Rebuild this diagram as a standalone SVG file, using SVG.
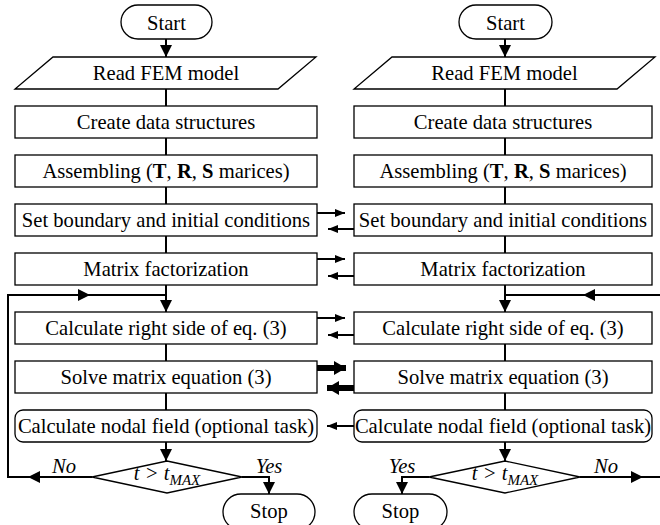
<svg xmlns="http://www.w3.org/2000/svg" width="660" height="525" viewBox="0 0 660 525">
<defs>
<style>
.n{fill:#fff;stroke:#000;stroke-width:1.3}
.t{font-family:"Liberation Serif","Times New Roman","DejaVu Serif",serif;font-size:20.6px;fill:#000;text-anchor:middle}
.i{font-style:italic}
.c{fill:none;stroke:#000;stroke-width:2}
.thin{fill:none;stroke:#000;stroke-width:2}
.thick{fill:none;stroke:#000;stroke-width:6}
</style>
<marker id="ah" viewBox="0 0 12 12" refX="12" refY="6" markerWidth="12" markerHeight="12" markerUnits="userSpaceOnUse" orient="auto"><path d="M0,0 L12,6 L0,12 z" fill="#000"/></marker>
<marker id="sa" viewBox="0 0 10 8" refX="10" refY="4" markerWidth="10" markerHeight="8" markerUnits="userSpaceOnUse" orient="auto"><path d="M0,0 L10,4 L0,8 z" fill="#000"/></marker>
<marker id="ta" viewBox="0 0 12 14" refX="12" refY="7" markerWidth="12" markerHeight="14" markerUnits="userSpaceOnUse" orient="auto"><path d="M0,0 L12,7 L0,14 z" fill="#000"/></marker>
</defs>
<rect width="660" height="525" fill="#fff"/>

<g id="connectors">
<path class="c" d="M166,39 V57" marker-end="url(#ah)"/>
<path class="c" d="M166,89 V106 M166,138 V155 M166,187 V204 M166,236 V253"/>
<path class="c" d="M166,285 V312" marker-end="url(#ah)"/>
<path class="c" d="M166,344 V361 M166,393 V410"/>
<path class="c" d="M166,442 V461" marker-end="url(#ah)"/>
<path class="c" d="M92,477 H28" marker-end="url(#ah)"/>
<path class="c" d="M30,477 H8 V295 H90"/>
<path class="c" d="M78,295 H166"/>
<path class="c" d="M80,295 H90" marker-end="url(#ah)"/>
<path class="c" d="M242,477 H269 V494" marker-end="url(#ah)"/>

<path class="c" d="M505,39 V57" marker-end="url(#ah)"/>
<path class="c" d="M505,89 V106 M505,138 V155 M505,187 V204 M505,236 V253"/>
<path class="c" d="M505,285 V312" marker-end="url(#ah)"/>
<path class="c" d="M505,344 V361 M505,393 V410"/>
<path class="c" d="M505,442 V461" marker-end="url(#ah)"/>
<path class="c" d="M660,295 H583" marker-end="url(#ah)"/>
<path class="c" d="M585,295 H505"/>
<path class="c" d="M580,477 H643" marker-end="url(#ah)"/>
<path class="c" d="M640,477 H660"/>
<path class="c" d="M429,477 H402 V494" marker-end="url(#ah)"/>

<path class="thin" d="M317,213 H345" marker-end="url(#sa)"/>
<path class="thin" d="M354,229 H328" marker-end="url(#sa)"/>
<path class="thin" d="M317,259 H345" marker-end="url(#sa)"/>
<path class="thin" d="M354,276 H328" marker-end="url(#sa)"/>
<path class="thin" d="M317,318 H345" marker-end="url(#sa)"/>
<path class="thin" d="M354,335 H328" marker-end="url(#sa)"/>
<path class="thick" d="M317,368 H346" marker-end="url(#ta)"/>
<path class="thick" d="M354,388 H327" marker-end="url(#ta)"/>
<path class="thin" d="M354,426 H327" marker-end="url(#sa)"/>
</g>

<g id="L-start"><rect class="n" x="121" y="5" width="91" height="34" rx="17"/><text class="t" x="166.5" y="30">Start</text></g>
<g id="L-read"><polygon class="n" points="53,57 316,57 278,89 15,89"/><text class="t" x="166" y="80">Read FEM model</text></g>
<g id="L-create"><rect class="n" x="15" y="106" width="302" height="32"/><text class="t" x="166" y="129">Create data structures</text></g>
<g id="L-assemble"><rect class="n" x="15" y="155" width="302" height="32"/><text class="t" x="166" y="178">Assembling (<tspan font-weight="bold">T</tspan>, <tspan font-weight="bold">R</tspan>, <tspan font-weight="bold">S</tspan> marices)</text></g>
<g id="L-set"><rect class="n" x="15" y="204" width="302" height="32"/><text class="t" x="166" y="227">Set boundary and initial conditions</text></g>
<g id="L-factor"><rect class="n" x="15" y="253" width="302" height="32"/><text class="t" x="166" y="276">Matrix factorization</text></g>
<g id="L-rhs"><rect class="n" x="15" y="312" width="302" height="32"/><text class="t" x="166" y="335">Calculate right side of eq. (3)</text></g>
<g id="L-solve"><rect class="n" x="15" y="361" width="302" height="32"/><text class="t" x="166" y="384">Solve matrix equation (3)</text></g>
<g id="L-nodal"><rect class="n" x="15" y="410" width="302" height="32" rx="8"/><text class="t" x="166" y="433">Calculate nodal field (optional task)</text></g>
<g id="L-cond"><polygon class="n" points="167,461 242,477 167,493 92,477"/><text class="t i" x="167" y="480">t &gt; t<tspan font-size="15" dy="5">MAX</tspan></text></g>
<g id="L-stop"><rect class="n" x="223" y="494" width="92" height="36" rx="18"/><text class="t" x="269" y="518">Stop</text></g>
<text class="t i" x="64" y="473">No</text>
<text class="t i" x="269" y="473">Yes</text>

<g id="R-start"><rect class="n" x="459" y="5" width="93" height="34" rx="17"/><text class="t" x="505.5" y="30">Start</text></g>
<g id="R-read"><polygon class="n" points="392,57 655,57 617,89 354,89"/><text class="t" x="504.5" y="80">Read FEM model</text></g>
<g id="R-create"><rect class="n" x="354" y="106" width="298" height="32"/><text class="t" x="503" y="129">Create data structures</text></g>
<g id="R-assemble"><rect class="n" x="354" y="155" width="298" height="32"/><text class="t" x="503" y="178">Assembling (<tspan font-weight="bold">T</tspan>, <tspan font-weight="bold">R</tspan>, <tspan font-weight="bold">S</tspan> marices)</text></g>
<g id="R-set"><rect class="n" x="354" y="204" width="298" height="32"/><text class="t" x="503" y="227">Set boundary and initial conditions</text></g>
<g id="R-factor"><rect class="n" x="354" y="253" width="298" height="32"/><text class="t" x="503" y="276">Matrix factorization</text></g>
<g id="R-rhs"><rect class="n" x="354" y="312" width="298" height="32"/><text class="t" x="503" y="335">Calculate right side of eq. (3)</text></g>
<g id="R-solve"><rect class="n" x="354" y="361" width="298" height="32"/><text class="t" x="503" y="384">Solve matrix equation (3)</text></g>
<g id="R-nodal"><rect class="n" x="354" y="410" width="298" height="32" rx="8"/><text class="t" x="503" y="433">Calculate nodal field (optional task)</text></g>
<g id="R-cond"><polygon class="n" points="505,461 580,477 505,493 429,477"/><text class="t i" x="505" y="480">t &gt; t<tspan font-size="15" dy="5">MAX</tspan></text></g>
<g id="R-stop"><rect class="n" x="354" y="494" width="93" height="36" rx="18"/><text class="t" x="400.5" y="518">Stop</text></g>
<text class="t i" x="402" y="473">Yes</text>
<text class="t i" x="606" y="473">No</text>
</svg>
